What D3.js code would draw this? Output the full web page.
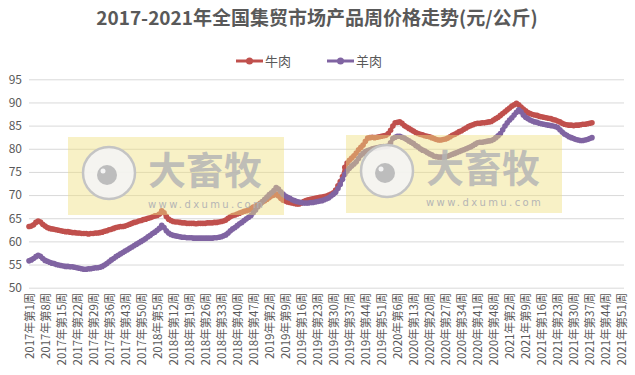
<!DOCTYPE html>
<html>
<head>
<meta charset="utf-8">
<style>
    body { margin: 0; background: #fff; }
    text { font-family: "Noto Sans CJK SC", "Noto Sans", sans-serif; fill: #595959; }
</style>
<script src="https://d3js.org/d3.v7.min.js"></script>
</head>
<body>
<svg id="chart" width="635" height="375"></svg>
<script>
    var title = "2017-2021年全国集贸市场产品周价格走势(元/公斤)";
    var seriesNames = ["牛肉", "羊肉"];
    var years = [2017, 2018, 2019, 2020, 2021];
    var weeksPerYear = [52, 52, 52, 53, 52];
    var yTicks = [50, 55, 60, 65, 70, 75, 80, 85, 90, 95];

    // 牛肉, weekly from 2017 wk1
    var beef = [
        63.2,63.3,63.6,64.1,64.4,64.2,63.7,63.3,63.0,62.8,62.7,62.6,62.5,62.4,62.3,62.2,62.1,62.1,62.0,61.9,
        61.9,61.8,61.8,61.7,61.7,61.7,61.6,61.7,61.7,61.8,61.8,61.9,62.0,62.2,62.3,62.5,62.6,62.8,63.0,63.1,
        63.2,63.2,63.3,63.5,63.7,63.9,64.1,64.2,64.4,64.5,64.7,64.8,
        // 2018
        65.0,65.1,65.3,65.5,65.6,65.9,66.6,66.2,65.4,64.8,64.5,64.3,64.2,64.2,64.1,64.0,64.0,63.9,63.9,63.9,
        63.9,63.8,63.9,63.9,63.9,63.9,64.0,64.0,64.0,64.1,64.1,64.2,64.3,64.4,64.6,65.0,65.3,65.6,65.7,65.9,
        66.1,66.3,66.5,66.6,66.8,67.1,67.4,67.6,67.9,68.2,68.5,68.8,
        // 2019
        69.1,69.5,69.8,70.0,70.2,69.8,69.3,68.9,68.7,68.5,68.4,68.3,68.2,68.1,68.1,68.3,68.6,68.8,69.0,69.1,
        69.2,69.3,69.4,69.5,69.6,69.7,69.8,70.0,70.2,70.5,71.1,72.0,72.9,74.0,76.0,76.9,77.5,78.0,78.5,79.1,
        79.8,80.3,80.8,81.6,82.3,82.4,82.5,82.4,82.5,82.6,82.7,82.8,
        // 2020
        82.9,83.3,84.0,84.9,85.6,85.7,85.8,85.5,85.0,84.7,84.4,84.1,83.8,83.5,83.3,83.1,83.0,82.8,82.7,82.6,
        82.4,82.2,82.0,81.9,81.9,82.0,82.1,82.3,82.6,82.9,83.1,83.4,83.7,83.9,84.2,84.5,84.8,85.0,85.2,85.4,
        85.5,85.5,85.6,85.6,85.7,85.8,85.9,86.2,86.5,86.8,87.2,87.6,88.0,
        // 2021
        88.4,88.8,89.2,89.5,89.8,89.5,89.0,88.6,88.2,87.8,87.6,87.4,87.3,87.2,87.0,86.9,86.8,86.7,86.6,86.5,
        86.3,86.2,86.0,85.8,85.5,85.3,85.2,85.1,85.1,85.0,85.1,85.1,85.2,85.3,85.3,85.4,85.5,85.6
    ];

    // 羊肉
    var mutton = [
        55.8,56.0,56.3,56.7,57.0,56.8,56.3,55.9,55.7,55.5,55.3,55.2,55.0,54.9,54.8,54.7,54.6,54.6,54.5,54.5,
        54.4,54.3,54.2,54.1,54.0,54.0,54.1,54.1,54.2,54.3,54.3,54.4,54.6,54.9,55.2,55.6,56.0,56.3,56.7,57.0,
        57.3,57.6,57.9,58.2,58.5,58.8,59.1,59.4,59.7,60.0,60.3,60.6,
        // 2018
        61.0,61.3,61.7,62.0,62.4,62.8,63.5,63.0,62.3,61.8,61.5,61.3,61.2,61.1,61.0,60.9,60.9,60.8,60.8,60.8,
        60.7,60.7,60.7,60.7,60.7,60.7,60.7,60.7,60.7,60.8,60.8,60.9,61.0,61.2,61.4,61.8,62.3,62.7,63.0,63.4,
        63.8,64.1,64.5,64.9,65.2,65.6,66.2,66.8,67.5,68.0,68.6,69.1,
        // 2019
        69.6,70.1,70.5,71.0,71.6,71.3,70.7,70.2,69.8,69.5,69.3,69.0,68.8,68.6,68.5,68.4,68.3,68.3,68.3,68.4,
        68.4,68.5,68.6,68.7,68.8,69.0,69.2,69.4,69.8,70.2,70.6,71.4,72.3,73.4,74.5,75.2,75.8,76.3,76.7,77.2,
        77.9,78.6,79.0,79.4,79.6,79.8,80.0,80.1,80.2,80.3,80.4,80.5,
        // 2020
        80.5,80.6,81.3,82.2,82.5,82.7,82.7,82.5,82.3,82.0,81.7,81.4,81.1,80.7,80.4,80.0,79.7,79.5,79.2,78.9,
        78.7,78.4,78.3,78.2,78.2,78.2,78.3,78.4,78.6,78.8,79.0,79.2,79.4,79.6,79.8,80.0,80.2,80.4,80.7,81.0,
        81.3,81.4,81.4,81.5,81.6,81.7,81.8,82.0,82.4,82.8,83.3,84.1,84.9,
        // 2021
        85.6,86.2,86.7,87.3,87.9,88.4,88.0,87.3,86.8,86.5,86.2,86.0,85.8,85.7,85.5,85.4,85.3,85.2,85.1,85.0,
        84.9,84.8,84.6,84.1,83.6,83.2,82.9,82.6,82.4,82.2,82.0,81.9,81.8,81.8,81.9,82.0,82.2,82.4
    ];

    var colors = ["#c0504d", "#8064a2"];

    // week categories
    var cats = [];
    years.forEach(function (y, k) {
        for (var w = 1; w <= weeksPerYear[k]; w++) cats.push(y + "年第" + w + "周");
    });

    var svg = d3.select("#chart");

    var x = d3.scalePoint().domain(cats).range([29, 624]);
    var y = d3.scaleLinear().domain([50, 95]).range([287.7, 79.3]);

    // title
    svg.append("text")
        .attr("x", 317).attr("y", 25)
        .attr("text-anchor", "middle")
        .style("font-size", "19px")
        .style("font-weight", "bold")
        .text(title);

    // legend
    var legend = svg.append("g").attr("transform", "translate(236,61)");
    seriesNames.forEach(function (name, i) {
        var g = legend.append("g").attr("transform", "translate(" + (i * 91) + ",0)");
        g.append("line").attr("x1", 0).attr("x2", 27).attr("y1", 0).attr("y2", 0)
            .attr("stroke", colors[i]).attr("stroke-width", 3);
        g.append("circle").attr("cx", 13.5).attr("cy", 0).attr("r", 3.5).attr("fill", colors[i]);
        g.append("text").attr("x", 29).attr("y", 0).attr("dy", "0.35em")
            .style("font-size", "13px").text(name);
    });

    // y axis + grid
    var yAxis = d3.axisLeft(y).tickValues(yTicks).tickSize(-(624 - 29)).tickPadding(7);
    var gy = svg.append("g").attr("transform", "translate(29,0)").call(yAxis);
    gy.select(".domain").remove();
    gy.selectAll(".tick line").attr("stroke", "#d9d9d9");
    gy.selectAll(".tick text").style("font-size", "12px").attr("fill", "#595959");

    // x labels every 7 weeks
    var xAxis = d3.axisBottom(x)
        .tickValues(cats.filter(function (d, i) { return i % 7 === 0; }))
        .tickSize(0).tickPadding(0);
    var gx = svg.append("g").attr("transform", "translate(0,287.7)").call(xAxis);
    gx.select(".domain").remove();
    gx.selectAll(".tick text")
        .style("font-size", "11.5px")
        .attr("fill", "#595959")
        .attr("text-anchor", "end")
        .attr("transform", "rotate(-90)")
        .attr("x", -5).attr("y", 0).attr("dy", "0.35em");

    // lines
    var line = d3.line()
        .x(function (d, i) { return x(cats[i]); })
        .y(function (d) { return y(d); });

    [beef, mutton].forEach(function (vals, s) {
        svg.append("path").datum(vals)
            .attr("fill", "none")
            .attr("stroke", colors[s])
            .attr("stroke-width", 3.5)
            .attr("stroke-linejoin", "round")
            .attr("d", line);
        svg.append("g").selectAll("circle").data(vals).enter().append("circle")
            .attr("cx", function (d, i) { return x(cats[i]); })
            .attr("cy", function (d) { return y(d); })
            .attr("r", 2.8)
            .attr("fill", colors[s]);
    });

    // watermarks
    [[68, 137], [346, 135]].forEach(function (p) {
        var w = svg.append("g").attr("transform", "translate(" + p[0] + "," + p[1] + ")");
        w.append("rect").attr("width", 216).attr("height", 78)
            .attr("fill", "#f0e080").attr("opacity", 0.45);
        w.append("circle").attr("cx", 41).attr("cy", 36).attr("r", 26)
            .attr("fill", "#f4f4f4").attr("fill-opacity", 0.9)
            .attr("stroke", "#c4c4c4").attr("stroke-width", 2.5);
        w.append("circle").attr("cx", 39).attr("cy", 38).attr("r", 10).attr("fill", "#bdbdbd");
        w.append("circle").attr("cx", 35).attr("cy", 34).attr("r", 2.5).attr("fill", "#f4f4f4");
        w.append("text").attr("x", 80).attr("y", 47)
            .style("font-size", "38px").style("font-weight", "bold")
            .style("fill", "#b5b5b5").style("fill-opacity", 0.85)
            .text("大畜牧");
        w.append("text").attr("x", 80).attr("y", 71)
            .style("font-size", "10px").style("letter-spacing", "2.4px")
            .style("font-family", "DejaVu Sans")
            .style("fill", "#b5b5b5").text("www.dxumu.com");
    });
</script>
</body>
</html>
